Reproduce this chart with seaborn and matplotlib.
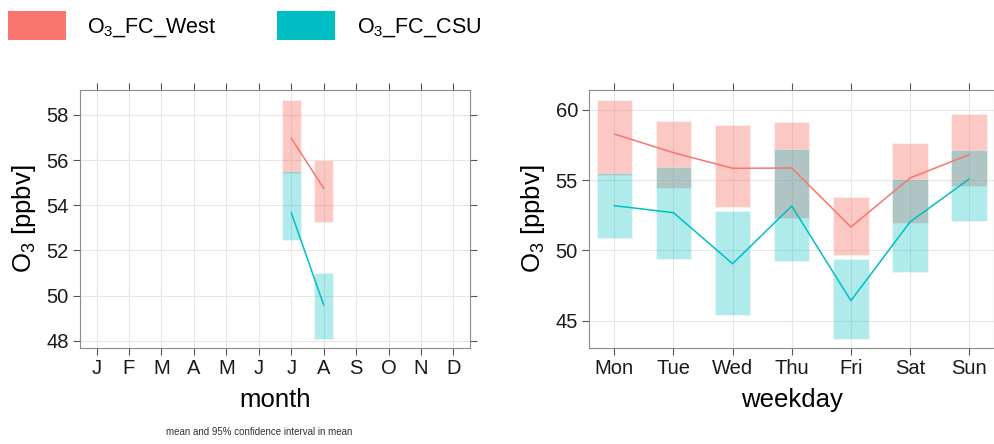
import matplotlib
matplotlib.use("Agg")
import matplotlib.pyplot as plt
import seaborn as sns
import pandas as pd
from matplotlib.patches import Patch

sns.set_style("white")
plt.rcParams['font.family'] = ['Liberation Sans', 'DejaVu Sans']
plt.rcParams['mathtext.fontset'] = 'custom'
plt.rcParams['mathtext.rm'] = 'Liberation Sans'
plt.rcParams['mathtext.it'] = 'Liberation Sans'
plt.rcParams['text.color'] = 'black'
plt.rcParams['axes.labelcolor'] = 'black'
plt.rcParams['xtick.labelcolor'] = '#1a1a1a'
plt.rcParams['ytick.labelcolor'] = '#1a1a1a'

west_col = "#F8766D"
csu_col = "#00BFC4"

# monthly data (only July and August)
month_labels = ["J", "F", "M", "A", "M", "J", "J", "A", "S", "O", "N", "D"]
months = [7, 8]
west_m_mean = [56.97, 54.75]
west_m_lo = [55.42, 53.25]
west_m_hi = [58.66, 55.99]
csu_m_mean = [53.67, 49.58]
csu_m_lo = [52.46, 48.09]
csu_m_hi = [55.52, 50.99]

# weekday data
days = ["Mon", "Tue", "Wed", "Thu", "Fri", "Sat", "Sun"]
west_d_mean = [58.29, 56.96, 55.85, 55.87, 51.67, 55.16, 56.82]
west_d_lo = [55.37, 54.47, 53.07, 52.34, 49.66, 51.98, 54.61]
west_d_hi = [60.71, 59.24, 58.91, 59.12, 53.79, 57.63, 59.69]
csu_d_mean = [53.19, 52.69, 49.06, 53.17, 46.43, 52.03, 55.09]
csu_d_lo = [50.87, 49.37, 45.39, 49.25, 43.73, 48.47, 52.12]
csu_d_hi = [55.49, 55.92, 52.83, 57.22, 49.40, 55.07, 57.13]

fig = plt.figure(figsize=(9.95, 4.44), dpi=100)
ax1 = fig.add_axes([0.0804, 0.2162, 0.392, 0.581])
ax2 = fig.add_axes([0.592, 0.2162, 0.407, 0.581])


def draw_panel(ax, x, series):
    for mean, lo, hi, col, a in series:
        df = pd.DataFrame({"x": x, "mean": mean, "lo": lo, "hi": hi})
        ax.bar(df["x"], df["hi"] - df["lo"], bottom=df["lo"], width=0.6,
               color=col, alpha=a, edgecolor="white", linewidth=0.8, zorder=2)
    for mean, lo, hi, col, a in series:
        df = pd.DataFrame({"x": x, "mean": mean})
        sns.lineplot(data=df, x="x", y="mean", color=col, lw=1.1, ax=ax, zorder=3)


draw_panel(ax1, months, [
    (west_m_mean, west_m_lo, west_m_hi, west_col, 0.4),
    (csu_m_mean, csu_m_lo, csu_m_hi, csu_col, 0.31),
])
draw_panel(ax2, list(range(1, 8)), [
    (west_d_mean, west_d_lo, west_d_hi, west_col, 0.4),
    (csu_d_mean, csu_d_lo, csu_d_hi, csu_col, 0.31),
])

ax1.set_xlim(0.49, 12.51)
ax1.set_ylim(47.68, 59.1)
ax1.set_xticks(range(1, 13))
ax1.set_xticklabels(month_labels)
ax1.set_yticks([48, 50, 52, 54, 56, 58])
ax1.set_xlabel("month", fontsize=18.5, labelpad=7)

ax2.set_xlim(0.572, 7.42)
ax2.set_ylim(43.06, 61.42)
ax2.set_xticks(range(1, 8))
ax2.set_xticklabels(days)
ax2.set_yticks([45, 50, 55, 60])
ax2.set_xlabel("weekday", fontsize=18.5, labelpad=7)

for ax in (ax1, ax2):
    ax.set_ylabel(r"O$_{3}$ [ppbv]", fontsize=18.5, labelpad=6)
    ax.grid(True, color="#e6e6e6", lw=0.8, zorder=0)
    ax.set_axisbelow(True)
    for s in ax.spines.values():
        s.set_color("#8c8c8c")
        s.set_linewidth(0.8)
    ax.tick_params(axis="both", which="both", direction="out", length=5,
                   color="#555555", labelsize=14.5, pad=3,
                   top=True, right=True, bottom=True, left=True,
                   labeltop=False, labelright=False)

fig.text(0.26, 0.028, "mean and 95% confidence interval in mean",
         fontsize=7, ha="center", va="center", color="#333333")

handles = [Patch(facecolor=west_col, edgecolor="none"),
           Patch(facecolor=csu_col, edgecolor="none")]
fig.legend(handles, [r"O$_{3}$_FC_West", r"O$_{3}$_FC_CSU"], loc="upper left",
           bbox_to_anchor=(-0.003, 1.0), ncol=2, frameon=False, fontsize=15.5,
           handlelength=2.7, handleheight=1.7, handletextpad=1.0,
           columnspacing=2.8, borderaxespad=0.2, borderpad=0.3)

fig.savefig("out.png", dpi=100)
